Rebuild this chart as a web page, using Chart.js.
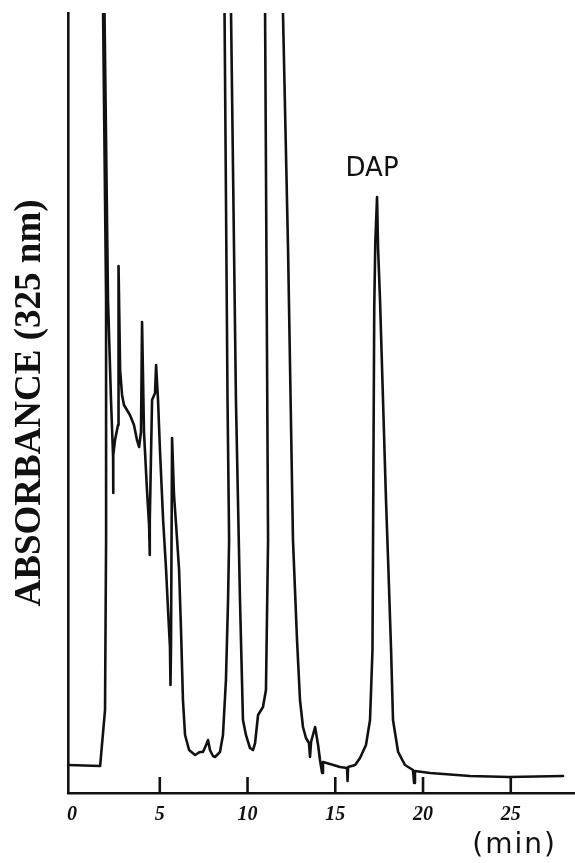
<!DOCTYPE html>
<html>
<head>
<meta charset="utf-8">
<script src="https://cdn.jsdelivr.net/npm/chart.js@4.4.1/dist/chart.umd.min.js"></script>
<style>
    html, body { margin: 0; padding: 0; background: #fff; }
    canvas { display: block; }
</style>
</head>
<body>
<canvas id="chromChart" width="575" height="863"></canvas>
<script>
// ----- DATA -----
// retention time (min) and detector response (arbitrary units, 100 = top of the trace area)
const retentionTimes = [
    -0.23, 1.60, 1.88, 1.94, 1.94, 1.77, 1.81, 1.85, 2.05, 2.22,
    2.34, 2.34, 2.36, 2.45, 2.62, 2.65, 2.74, 2.85, 2.96, 3.30,
    3.53, 3.70, 3.82, 3.93, 3.99, 4.10, 4.27, 4.39, 4.42, 4.44,
    4.56, 4.73, 4.79, 4.90, 5.01, 5.19, 5.36, 5.47, 5.58, 5.61,
    5.64, 5.70, 5.81, 5.93, 6.10, 6.21, 6.32, 6.44, 6.67, 7.01,
    7.29, 7.46, 7.64, 7.75, 7.86, 8.03, 8.15, 8.43, 8.60, 8.77,
    8.89, 8.95, 8.86, 8.69, 8.87, 9.06, 9.34, 9.57, 9.74, 9.91,
    10.03, 10.14, 10.31, 10.43, 10.60, 10.88, 11.05, 11.17, 11.00, 11.51,
    12.02, 12.31, 12.59, 12.82, 12.99, 13.16, 13.33, 13.50, 13.56, 13.62,
    13.85, 14.02, 14.13, 14.25, 14.30, 14.70, 15.27, 15.67, 15.70, 15.73,
    16.13, 16.41, 16.75, 16.98, 17.12, 17.17, 17.22, 17.28, 17.38, 17.44,
    17.55, 17.72, 17.89, 18.01, 18.18, 18.29, 18.58, 18.97, 19.43, 19.49,
    19.54, 20.40, 22.68, 24.90, 27.98
];
const absorbance = [
    3.59, 3.46, 10.64, 32.44, 63.21, 100, 104.2, 100, 63.21, 50.38,
    43.08, 38.46, 43.33, 45.26, 47.18, 67.56, 54.23, 51.03, 49.74, 48.46,
    47.18, 45.26, 44.36, 46.28, 60.38, 46.28, 38.85, 34.36, 30.51, 35.00,
    50.38, 51.28, 54.87, 50.38, 43.97, 35.00, 28.59, 23.46, 18.72, 13.85,
    18.97, 45.51, 38.21, 34.36, 28.59, 20.90, 11.92, 7.44, 5.51, 4.87,
    5.26, 5.26, 6.15, 6.79, 5.51, 4.74, 4.62, 5.26, 7.44, 14.49,
    24.74, 32.44, 50.38, 100, 104.2, 100, 50.38, 24.74, 9.36, 7.44,
    6.54, 5.77, 5.51, 6.41, 10.00, 11.03, 13.21, 32.44, 100, 104.2,
    100, 69.62, 32.44, 19.62, 11.92, 8.46, 7.05, 6.41, 4.62, 6.54,
    8.46, 6.15, 4.23, 2.56, 3.97, 3.72, 3.33, 3.21, 1.54, 3.33,
    3.59, 4.49, 6.15, 9.36, 18.33, 40.13, 62.00, 70.50, 76.41, 69.74,
    63.21, 50.38, 37.56, 29.87, 18.33, 9.36, 5.26, 3.59, 2.95, 1.28,
    2.82, 2.56, 2.18, 2.05, 2.18
];
const timeTicks = [0, 5, 10, 15, 20, 25];
const peakName = 'DAP';
const peakWindow = [16, 19];
const xTitle = '(min)';
const yTitle = 'ABSORBANCE (325 nm)';

const INK = '#111';

// ----- ANNOTATIONS (inward ticks, peak name, time unit) -----
const annotationPlugin = {
    id: 'annotations',
    afterDraw(chart) {
        const { ctx, chartArea } = chart;
        const x = chart.scales.x;
        const y = chart.scales.y;
        ctx.save();
        ctx.fillStyle = INK;
        // tick marks point up into the plot, like the recorder paper
        timeTicks.forEach(v => {
            if (v === 0) return;
            const px = x.getPixelForValue(v);
            ctx.fillRect(px - 1.3, chartArea.bottom - 16, 2.6, 16);
        });
        // find the DAP apex inside its window
        let best = -1;
        retentionTimes.forEach((t, i) => {
            if (t >= peakWindow[0] && t <= peakWindow[1] && (best < 0 || absorbance[i] > absorbance[best])) best = i;
        });
        ctx.textBaseline = 'middle';
        if (best >= 0) {
            ctx.font = '26px "DejaVu Sans"';
            ctx.textAlign = 'center';
            ctx.fillText(peakName, x.getPixelForValue(retentionTimes[best]) - 5, y.getPixelForValue(absorbance[best]) - 28);
        }
        ctx.font = '28px "DejaVu Sans"';
        ctx.letterSpacing = '2px';
        ctx.textAlign = 'right';
        ctx.fillText(xTitle, x.right - 18, 846);
        ctx.restore();
    }
};

// ----- CHART -----
new Chart(document.getElementById('chromChart'), {
    type: 'line',
    data: {
        datasets: [{
            data: retentionTimes.map((t, i) => ({ x: t, y: absorbance[i] })),
            borderColor: INK,
            borderWidth: 2.6,
            borderJoinStyle: 'round',
            borderCapStyle: 'round',
            pointRadius: 0,
            tension: 0,
            fill: false
        }]
    },
    options: {
        responsive: false,
        animation: false,
        layout: { padding: { top: 13, right: 0, bottom: 26, left: 0 } },
        plugins: { legend: { display: false }, tooltip: { enabled: false } },
        scales: {
            x: {
                type: 'linear',
                min: -0.23,
                max: 28.66,
                afterBuildTicks: axis => { axis.ticks = timeTicks.map(v => ({ value: v })); },
                grid: { display: false, drawTicks: false },
                border: { display: true, color: INK, width: 2.6 },
                ticks: {
                    padding: 10,
                    color: INK,
                    maxRotation: 0,
                    autoSkip: false,
                    font: { family: '"Liberation Serif", serif', size: 20, style: 'italic', weight: 'bold' }
                }
            },
            y: {
                min: 0,
                max: 100,
                ticks: { display: false },
                grid: { display: false, drawTicks: false },
                border: { display: true, color: INK, width: 2.6 },
                title: {
                    display: true,
                    text: yTitle,
                    color: INK,
                    font: { family: '"Liberation Serif", serif', size: 37, weight: 'bold', lineHeight: 1 },
                    padding: { top: 12, bottom: 19 }
                }
            }
        }
    },
    plugins: [annotationPlugin]
});
</script>
</body>
</html>
